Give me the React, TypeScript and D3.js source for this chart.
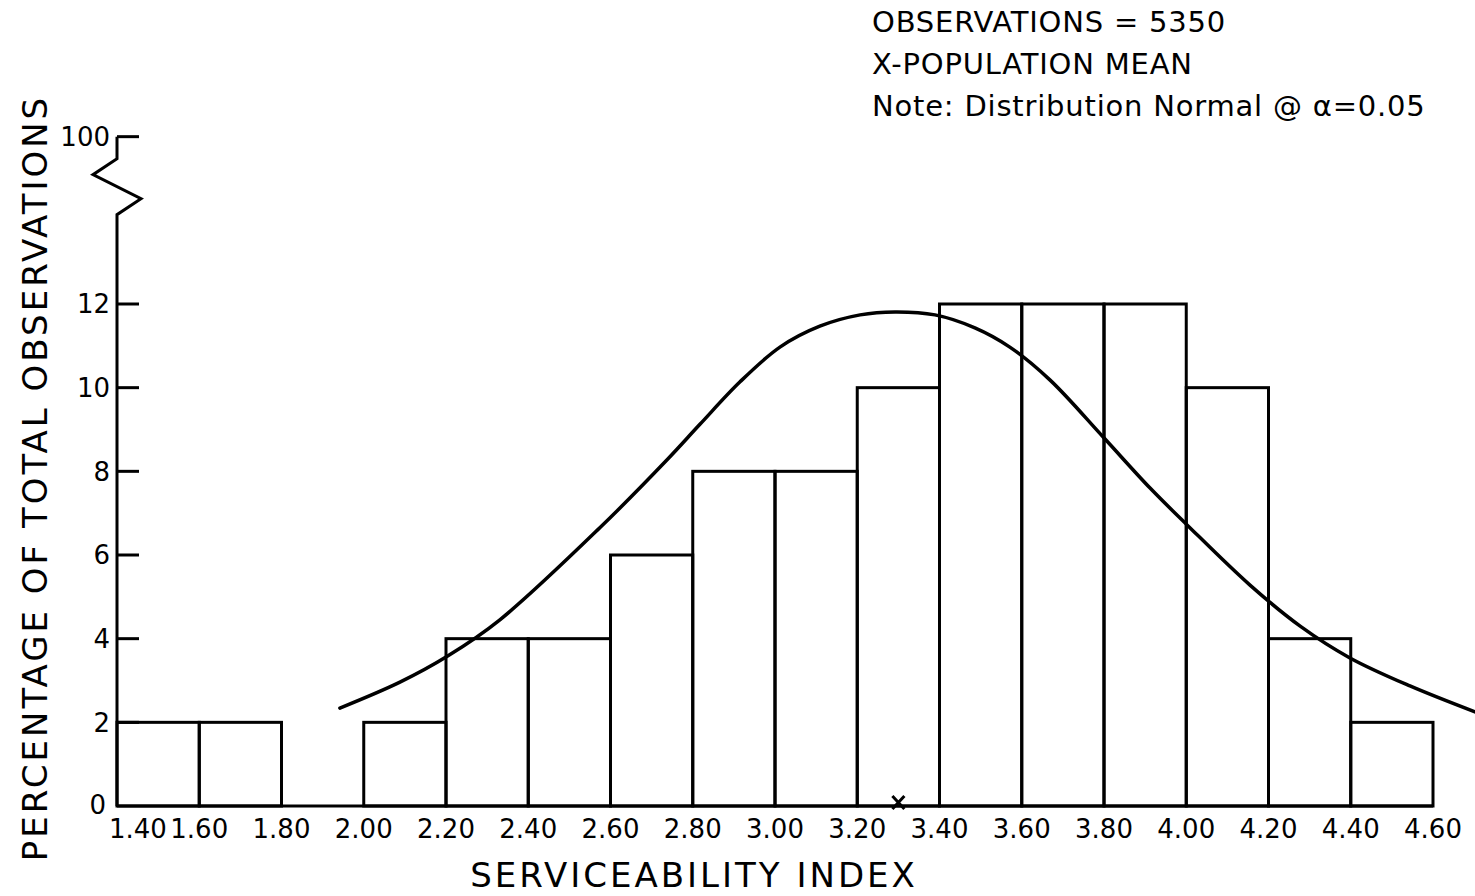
import React from "react";
import * as d3 from "d3";

// histogram bins (lower edge, percent of observations)
const binStarts = [1.4, 1.6, 2.0, 2.2, 2.4, 2.6, 2.8, 3.0, 3.2, 3.4, 3.6, 3.8, 4.0, 4.2, 4.4];
const binPercents = [2, 2, 2, 4, 4, 6, 8, 8, 10, 12, 12, 12, 10, 4, 2];
const binWidth = 0.2;

// fitted normal curve
const curveX = [1.942, 2.088, 2.205, 2.331, 2.574, 2.737, 2.818, 2.915, 3.012, 3.109, 3.207, 3.292, 3.389, 3.486, 3.571, 3.669, 3.798, 3.912, 4.002, 4.155, 4.277, 4.398, 4.544, 4.702];
const curveY = [2.34, 2.96, 3.59, 4.45, 6.65, 8.27, 9.13, 10.14, 10.97, 11.47, 11.74, 11.81, 11.74, 11.43, 10.97, 10.18, 8.82, 7.6, 6.72, 5.28, 4.3, 3.54, 2.87, 2.25];

const xTicks = [1.4, 1.6, 1.8, 2.0, 2.2, 2.4, 2.6, 2.8, 3.0, 3.2, 3.4, 3.6, 3.8, 4.0, 4.2, 4.4, 4.6];
const yTicks = [0, 2, 4, 6, 8, 10, 12];
const populationMean = 3.3;
const breakLabel = "100";

const notes = ["OBSERVATIONS = 5350", "X-POPULATION MEAN", "Note: Distribution Normal @ α=0.05"];

const W = 1475;
const H = 896;
const FONT = "'DejaVu Sans', sans-serif";

export default function App() {
  const x = d3.scaleLinear().domain([1.4, 4.6]).range([117, 1433]);
  const y = d3.scaleLinear().domain([0, 12]).range([806, 304]);

  const x0 = x(1.4);
  const yBreak = y(16); // where the "100" sits above the broken axis

  const line = d3
    .line<number>()
    .x((_, i) => x(curveX[i]))
    .y((d) => y(d))
    .curve(d3.curveCatmullRom.alpha(0.5));

  // zigzag break drawn relative to the axis
  const zig = `M${x0},${yBreak} L${x0},${yBreak + 22} L${x0 - 24},${yBreak + 38} L${x0 + 24},${yBreak + 62} L${x0},${yBreak + 78} L${x0},${y(0)}`;

  const mx = x(populationMean);
  const my = y(0) - 3;

  return (
    <svg
      width={W}
      height={H}
      style={{ position: "absolute", left: 0, top: 0, background: "#fff" }}
      fontFamily={FONT}
    >
      <rect width={W} height={H} fill="#fff" />

      {/* notes, top right */}
      {notes.map((t, i) => (
        <text key={t} x={872} y={32 + i * 42} fontSize={29} letterSpacing={0.8} fill="#000">
          {t}
        </text>
      ))}

      {/* bars */}
      {binStarts.map((s, i) => (
        <rect
          key={s}
          x={x(s)}
          y={y(binPercents[i])}
          width={x(s + binWidth) - x(s)}
          height={y(0) - y(binPercents[i])}
          fill="none"
          stroke="#000"
          strokeWidth={3}
        />
      ))}

      {/* baseline */}
      <line x1={x0} x2={x(4.6)} y1={y(0)} y2={y(0)} stroke="#000" strokeWidth={3} />

      {/* y axis with break */}
      <path d={zig} fill="none" stroke="#000" strokeWidth={3} strokeLinejoin="miter" />
      <line x1={x0} x2={x0 + 22} y1={yBreak} y2={yBreak} stroke="#000" strokeWidth={3} />
      <text x={110} y={yBreak} dy="0.36em" textAnchor="end" fontSize={26}>
        {breakLabel}
      </text>
      {yTicks.map((t) => (
        <g key={t}>
          {t > 0 && <line x1={x0} x2={x0 + 22} y1={y(t)} y2={y(t)} stroke="#000" strokeWidth={3} />}
          <text x={t === 0 ? 106 : 110} y={y(t)} dy={t === 0 ? "0.3em" : "0.36em"} textAnchor="end" fontSize={26}>
            {t}
          </text>
        </g>
      ))}

      {/* x tick labels */}
      {xTicks.map((t) => (
        <text
          key={t}
          x={t === 1.4 ? 109 : x(t)}
          y={838}
          textAnchor={t === 1.4 ? "start" : "middle"}
          fontSize={26}
        >
          {t.toFixed(2)}
        </text>
      ))}

      {/* normal curve */}
      <path d={line(curveY) || ""} fill="none" stroke="#000" strokeWidth={3.5} strokeLinecap="round" />

      {/* population mean marker */}
      <path
        d={`M${mx - 6},${my - 7} L${mx + 6},${my + 6} M${mx + 6},${my - 7} L${mx - 6},${my + 6}`}
        stroke="#000"
        strokeWidth={3}
      />

      {/* axis titles */}
      <text x={694} y={887} textAnchor="middle" fontSize={34} letterSpacing={3}>
        SERVICEABILITY INDEX
      </text>
      <text
        transform={`translate(47,478) rotate(-90)`}
        textAnchor="middle"
        fontSize={34}
        letterSpacing={3}
      >
        PERCENTAGE OF TOTAL OBSERVATIONS
      </text>
    </svg>
  );
}
